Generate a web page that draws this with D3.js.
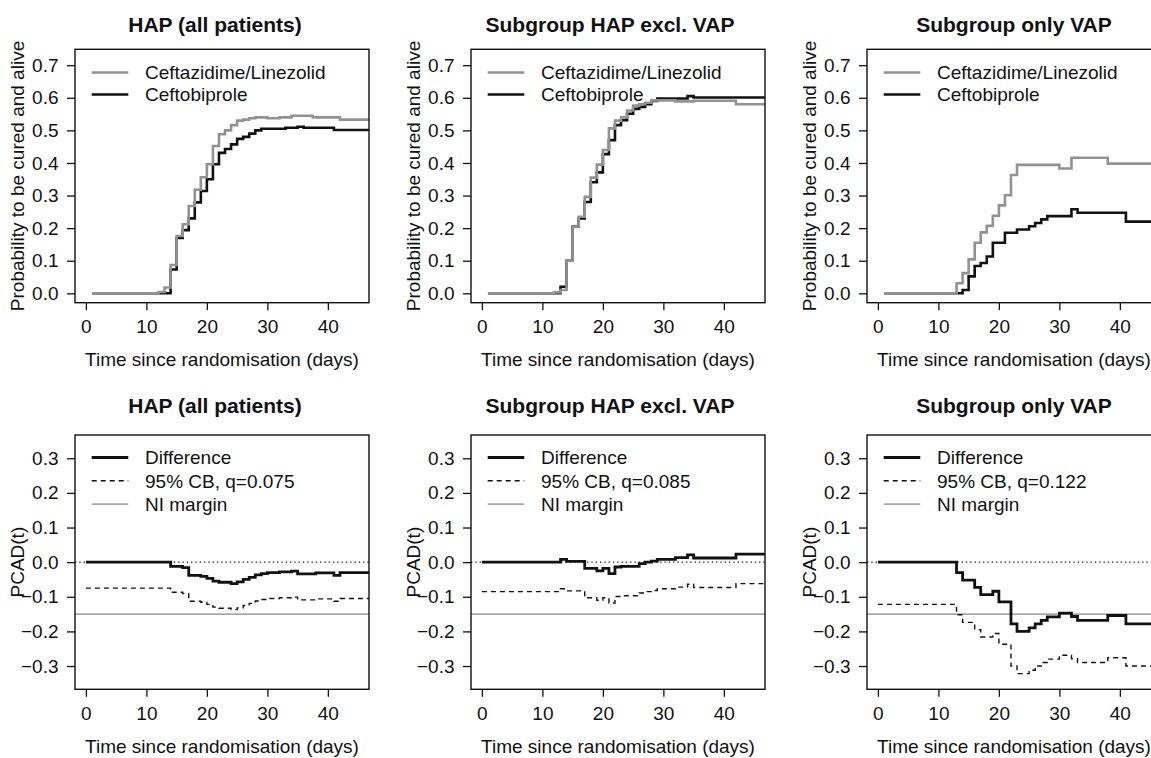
<!DOCTYPE html>
<html>
<head>
<meta charset="utf-8">
<script src="https://cdn.jsdelivr.net/npm/d3@7"></script>
<style>
  body { margin: 0; background: #fff; }
  text { font-family: "Liberation Sans", Arial, Helvetica, sans-serif; fill: #111; }
</style>
</head>
<body>
<svg id="chart" width="1151" height="758"></svg>
<script>
'use strict';

// ---- data ----
var titles = ['HAP (all patients)', 'Subgroup HAP excl. VAP', 'Subgroup only VAP'];
var groupNames = ['Ceftazidime/Linezolid', 'Ceftobiprole'];
var qValues = ['0.075', '0.085', '0.122'];
var niMargin = -0.15;
var probTicks = [0, 0.1, 0.2, 0.3, 0.4, 0.5, 0.6, 0.7];
var pcadTicks = [-0.3, -0.2, -0.1, 0, 0.1, 0.2, 0.3];
var dayTicks = [0, 10, 20, 30, 40];

// probability to be cured and alive, [day, value] steps
var hapAllCefLin = [[1,0],[12,0.004],[13,0.018],[14,0.087],[15,0.176],[16,0.212],[17,0.268],[18,0.318],[19,0.356],[20,0.396],[21,0.452],[22,0.488],[23,0.500],[24,0.516],[25,0.530],[26,0.533],[27,0.537],[28,0.540],[30,0.537],[32,0.540],[34,0.545],[37.5,0.540],[42,0.533],[47,0.533]];
var hapAllCeftob = [[1,0],[14,0.073],[15,0.170],[16,0.194],[17,0.230],[18,0.279],[19,0.314],[20,0.350],[21,0.396],[22,0.431],[23,0.443],[24,0.457],[25,0.474],[26,0.480],[27,0.490],[28,0.500],[29,0.505],[33,0.508],[35,0.511],[36,0.508],[41,0.501],[47,0.501]];
var exclCefLin = [[1,0],[12,0.003],[13,0.010],[14,0.100],[15,0.205],[16,0.235],[17,0.296],[18,0.355],[19,0.395],[20,0.440],[21,0.506],[22,0.530],[23,0.540],[24,0.561],[25,0.576],[26,0.580],[27,0.585],[28,0.592],[32,0.589],[35,0.591],[42,0.580],[47,0.580]];
var exclCeftob = [[1,0],[13,0.020],[14,0.100],[15,0.205],[16,0.230],[17,0.280],[18,0.341],[19,0.371],[20,0.427],[21,0.470],[22,0.516],[23,0.531],[24,0.551],[25,0.566],[26,0.572],[27,0.580],[28,0.590],[29,0.598],[34,0.605],[35,0.601],[47,0.601]];
var vapCefLin = [[1,0],[13,0.031],[14,0.062],[15,0.104],[16,0.155],[17,0.187],[18,0.207],[19,0.238],[20,0.270],[21,0.301],[22,0.363],[23,0.394],[30,0.383],[32,0.416],[38,0.398],[47,0.398]];
var vapCeftob = [[1,0],[13.2,0],[14,0.010],[15,0.052],[16,0.084],[17,0.093],[18,0.113],[19,0.155],[21,0.186],[23,0.196],[25,0.206],[26,0.216],[27,0.227],[28,0.237],[32,0.258],[33,0.247],[41,0.220],[47,0.220]];

// PCAD(t) difference and lower 95% confidence band
var hapAllDiff = [[0,0],[14,-0.012],[16,-0.016],[17,-0.038],[19,-0.041],[20,-0.047],[21,-0.055],[22,-0.058],[24,-0.062],[25,-0.057],[26,-0.050],[27,-0.044],[28,-0.037],[29,-0.033],[30,-0.030],[32,-0.028],[34,-0.026],[35,-0.034],[38,-0.031],[41,-0.038],[42,-0.030],[47,-0.030]];
var hapAllBand = [[0,-0.075],[14,-0.087],[16,-0.091],[17,-0.113],[19,-0.116],[20,-0.122],[21,-0.130],[22,-0.133],[24,-0.137],[25,-0.132],[26,-0.125],[27,-0.119],[28,-0.112],[29,-0.108],[30,-0.105],[32,-0.103],[34,-0.101],[35,-0.109],[38,-0.106],[41,-0.113],[42,-0.105],[47,-0.105]];
var exclDiff = [[0,0],[13,0.008],[14,0.002],[17,-0.018],[19,-0.025],[20,-0.018],[21,-0.033],[22,-0.014],[23,-0.012],[26,-0.004],[27,0.000],[28,0.003],[29,0.008],[32,0.013],[34,0.021],[35,0.012],[42,0.023],[47,0.023]];
var exclBand = [[0,-0.085],[13,-0.077],[14,-0.083],[17,-0.103],[19,-0.110],[20,-0.103],[21,-0.118],[22,-0.099],[23,-0.097],[26,-0.089],[27,-0.085],[28,-0.082],[29,-0.077],[32,-0.072],[34,-0.064],[35,-0.073],[42,-0.062],[47,-0.062]];
var vapDiff = [[0,0],[13,-0.030],[14,-0.052],[16,-0.073],[17,-0.094],[19,-0.084],[20,-0.115],[22,-0.178],[23,-0.200],[25,-0.190],[26,-0.178],[27,-0.168],[28,-0.158],[30,-0.147],[32,-0.157],[33,-0.168],[38,-0.154],[41,-0.178],[47,-0.178]];
var vapBand = [[0,-0.122],[13,-0.152],[14,-0.174],[16,-0.195],[17,-0.216],[19,-0.206],[20,-0.237],[22,-0.300],[23,-0.322],[25,-0.312],[26,-0.300],[27,-0.290],[28,-0.280],[30,-0.269],[32,-0.279],[33,-0.290],[38,-0.276],[41,-0.300],[47,-0.300]];

var cefLinSeries = [hapAllCefLin, exclCefLin, vapCefLin];
var ceftobSeries = [hapAllCeftob, exclCeftob, vapCeftob];
var diffSeries = [hapAllDiff, exclDiff, vapDiff];
var bandSeries = [hapAllBand, exclBand, vapBand];

// ---- layout ----
var BOX_X0 = 75, PANEL_STEP = 396, BOX_W = 294;
var TITLE_DX = [140, 139, 147];
var FONT = 19, TITLE_FONT = 21;
var GREY = '#929292', LIGHT_GREY = '#a8a8a8', INK = '#111';
var rows = [
    {y0: 49.3, y1: 302.7, titleY: 31.7, domain: [-0.0288, 0.7488], ticks: probTicks, ylab: 'Probability to be cured and alive'},
    {y0: 435, y1: 689.3, titleY: 413.3, domain: [-0.3672, 0.3672], ticks: pcadTicks, ylab: 'PCAD(t)'}
];

var svg = d3.select('#chart');
var fmt = d3.format('.1f');

function stepLine(x, y) {
    return d3.line()
        .x(function(d) { return x(d[0]); })
        .y(function(d) { return y(d[1]); })
        .curve(d3.curveStepAfter);
}

function drawFrame(g, x, y, row, i) {
    var bx = x.range()[0];

    var yAxis = d3.axisLeft(y).tickValues(row.ticks).tickFormat(fmt)
        .tickSize(8).tickPadding(8.5);
    var ya = g.append('g').attr('transform', 'translate(' + bx + ',0)').call(yAxis);
    var xAxis = d3.axisBottom(x).tickValues(dayTicks).tickFormat(d3.format('d'))
        .tickSize(7.5).tickPadding(9.5);
    var xa = g.append('g').attr('transform', 'translate(0,' + row.y1 + ')').call(xAxis);
    [ya, xa].forEach(function(a) {
        a.select('.domain').remove();
        a.selectAll('line').attr('stroke', INK).attr('stroke-width', 1.3);
        a.selectAll('text').style('font-size', FONT + 'px').attr('fill', INK)
            .style('font-family', '"Liberation Sans", Arial, sans-serif');
    });

    g.append('text')
        .attr('x', bx + TITLE_DX[i]).attr('y', row.titleY)
        .attr('text-anchor', 'middle')
        .style('font-size', TITLE_FONT + 'px').style('font-weight', 'bold')
        .text(titles[i]);
    g.append('text')
        .attr('x', bx + BOX_W / 2).attr('y', row.y1 + 63.3)
        .attr('text-anchor', 'middle')
        .style('font-size', FONT + 'px')
        .text('Time since randomisation (days)');
    g.append('text')
        .attr('transform', 'translate(' + (bx - 51.5) + ',' + ((row.y0 + row.y1) / 2) + ') rotate(-90)')
        .attr('text-anchor', 'middle')
        .style('font-size', FONT + 'px')
        .text(row.ylab);
}

function drawBox(g, x, row) {
    g.append('rect')
        .attr('x', x.range()[0]).attr('y', row.y0)
        .attr('width', BOX_W).attr('height', row.y1 - row.y0)
        .attr('fill', 'none').attr('stroke', INK).attr('stroke-width', 1.4);
}

function drawLegend(g, bx, firstY, gap, items) {
    items.forEach(function(it, k) {
        var ly = firstY + k * gap;
        g.append('line')
            .attr('x1', bx + 16.7).attr('x2', bx + 53.3)
            .attr('y1', ly).attr('y2', ly)
            .attr('stroke', it.color).attr('stroke-width', it.width)
            .attr('stroke-dasharray', it.dash || null);
        g.append('text')
            .attr('x', bx + 70).attr('y', ly + 6.8)
            .style('font-size', FONT + 'px')
            .text(it.label);
    });
}

function drawPanel(i) {
    var bx = BOX_X0 + PANEL_STEP * i;
    var x = d3.scaleLinear().domain([-1.8, 46.8]).range([bx, bx + BOX_W]);

    // top row: cumulative probabilities
    var topRow = rows[0];
    var yTop = d3.scaleLinear().domain(topRow.domain).range([topRow.y1, topRow.y0]);
    var gTop = svg.append('g');
    svg.append('clipPath').attr('id', 'clip-top-' + i)
        .append('rect').attr('x', bx).attr('y', topRow.y0)
        .attr('width', BOX_W).attr('height', topRow.y1 - topRow.y0);
    var plotTop = gTop.append('g').attr('clip-path', 'url(#clip-top-' + i + ')');
    var lineTop = stepLine(x, yTop);
    plotTop.append('path').datum(ceftobSeries[i])
        .attr('d', lineTop).attr('fill', 'none')
        .attr('stroke', INK).attr('stroke-width', 2.6);
    plotTop.append('path').datum(cefLinSeries[i])
        .attr('d', lineTop).attr('fill', 'none')
        .attr('stroke', GREY).attr('stroke-width', 2.6);
    drawFrame(gTop, x, yTop, topRow, i);
    drawBox(gTop, x, topRow);
    drawLegend(gTop, bx, 72.5, 22, [
        {label: groupNames[0], color: GREY, width: 2.6},
        {label: groupNames[1], color: INK, width: 2.6}
    ]);

    // bottom row: PCAD(t)
    var botRow = rows[1];
    var yBot = d3.scaleLinear().domain(botRow.domain).range([botRow.y1, botRow.y0]);
    var gBot = svg.append('g');
    svg.append('clipPath').attr('id', 'clip-bot-' + i)
        .append('rect').attr('x', bx).attr('y', botRow.y0)
        .attr('width', BOX_W).attr('height', botRow.y1 - botRow.y0);
    var plotBot = gBot.append('g').attr('clip-path', 'url(#clip-bot-' + i + ')');
    var lineBot = stepLine(x, yBot);
    plotBot.append('line')
        .attr('x1', bx).attr('x2', bx + BOX_W)
        .attr('y1', yBot(0)).attr('y2', yBot(0))
        .attr('stroke', INK).attr('stroke-width', 1.3)
        .attr('stroke-dasharray', '1.3,3');
    plotBot.append('line')
        .attr('x1', bx).attr('x2', bx + BOX_W)
        .attr('y1', yBot(niMargin)).attr('y2', yBot(niMargin))
        .attr('stroke', LIGHT_GREY).attr('stroke-width', 1.6);
    plotBot.append('path').datum(bandSeries[i])
        .attr('d', lineBot).attr('fill', 'none')
        .attr('stroke', INK).attr('stroke-width', 1.4)
        .attr('stroke-dasharray', '5,4');
    plotBot.append('path').datum(diffSeries[i])
        .attr('d', lineBot).attr('fill', 'none')
        .attr('stroke', INK).attr('stroke-width', 2.8);
    drawFrame(gBot, x, yBot, botRow, i);
    drawBox(gBot, x, botRow);
    drawLegend(gBot, bx, 457.5, 23.3, [
        {label: 'Difference', color: INK, width: 2.8},
        {label: '95% CB, q=' + qValues[i], color: INK, width: 1.4, dash: '5,4'},
        {label: 'NI margin', color: LIGHT_GREY, width: 1.6}
    ]);
}

[0, 1, 2].forEach(drawPanel);
</script>
</body>
</html>
